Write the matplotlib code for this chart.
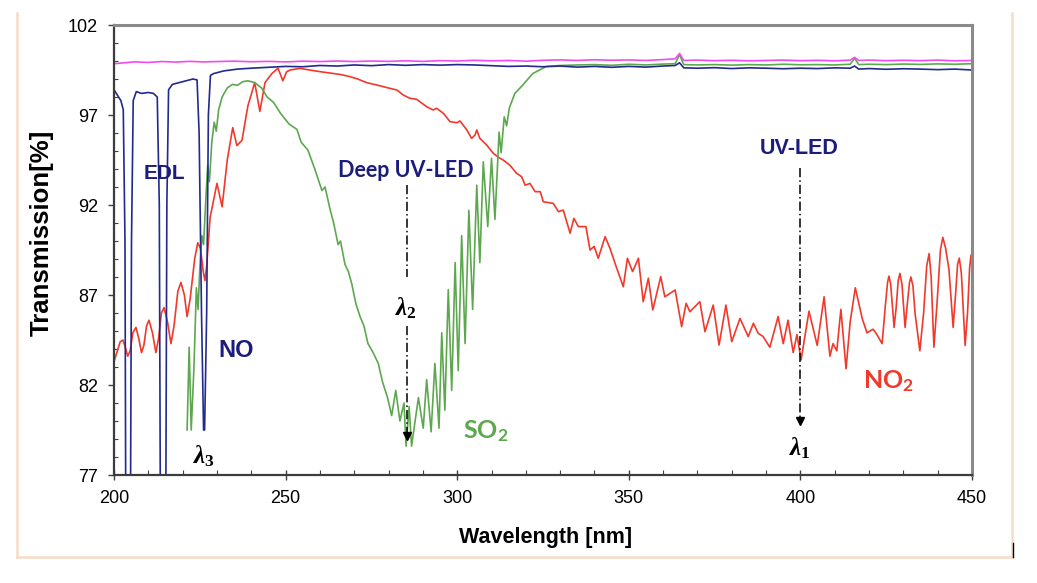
import matplotlib.pyplot as plt
from matplotlib.lines import Line2D

# ---- data (wavelength nm, transmission %) ----
mag_wl = [200, 203, 206, 210, 214, 218, 222, 226, 230, 235, 240, 245, 250, 255, 260, 265, 270, 275,
          280, 285, 290, 295, 300, 305, 310, 315, 320, 325, 330, 335, 340, 345, 350, 355, 360,
          363.5, 364.8, 366, 370, 375, 380, 385, 390, 395, 400, 405, 410, 414.5, 415.8, 417,
          420, 425, 430, 435, 440, 445, 450]
mag_T = [99.85, 99.9, 99.95, 99.92, 99.97, 99.94, 99.98, 99.95, 99.97, 99.99, 99.96, 99.98, 99.95,
         99.99, 99.97, 100.0, 99.97, 100.0, 99.98, 100.01, 99.98, 100.02, 100.0, 100.04, 100.01,
         100.03, 99.99, 100.04, 100.06, 100.03, 100.07, 100.04, 100.06, 100.03, 100.08,
         100.12, 100.42, 100.03, 100.05, 100.02, 100.04, 100.01, 100.03, 100.05, 100.02, 100.04,
         100.01, 100.05, 100.2, 100.03, 100.05, 100.02, 100.04, 100.02, 100.05, 100.01, 100.03]

no_wl = [200, 201, 202, 202.7, 203.2, 203.5, 204.7, 205.1, 205.6, 206.5,
         208, 210, 211.5, 212.6, 213.2, 213.6, 215.0, 215.4, 215.9, 217,
         219, 221, 223, 224.2, 224.8, 225.5, 226.1, 226.4, 227.0, 227.5,
         228.1, 229, 232, 236, 240, 245, 250, 255, 260, 265,
         270, 275, 280, 285, 290, 295, 300, 305, 310, 315,
         320, 325, 330, 335, 340, 345, 350, 355, 360, 363.5,
         364.8, 366, 370, 375, 380, 385, 390, 395, 400, 405,
         410, 414.5, 415.8, 417, 420, 425, 430, 435, 440, 445, 450]
no_T = [98.4, 98.1, 97.8, 97.3, 90, 70, 70, 90, 97.8, 98.3,
        98.2, 98.25, 98.2, 98.0, 92, 70, 70, 92, 98.4, 98.7,
        98.8, 98.9, 99.0, 98.95, 96, 86, 79.5, 79.5, 86, 97,
        99.2, 99.3, 99.45, 99.55, 99.6, 99.65, 99.7, 99.68, 99.75, 99.72,
        99.78, 99.74, 99.8, 99.76, 99.8, 99.77, 99.8, 99.78, 99.74, 99.7,
        99.72, 99.68, 99.72, 99.66, 99.7, 99.65, 99.7, 99.66, 99.72, 99.75,
        99.9, 99.62, 99.6, 99.63, 99.58, 99.62, 99.6, 99.57, 99.6, 99.58,
        99.62, 99.6, 99.72, 99.55, 99.58, 99.54, 99.57, 99.55, 99.52, 99.55, 99.5]

so2_wl = [221.3, 221.9, 222.5, 223.3, 224.0, 224.5, 225.0, 225.6, 226.1, 226.8,
          227.3, 227.8, 228.5, 229.2, 229.8, 230.5, 231.5, 233.0, 234.5, 236.0,
          237.5, 239.0, 241.0, 243.0, 244.6, 246.5, 248.5, 251.0, 253.3, 254.5,
          256.5, 258.5, 260.6, 261.5, 262.9, 264.0, 265.3, 266.0, 267.3, 268.3,
          269.3, 270.5, 271.7, 272.8, 274.0, 275.5, 277.0, 278.2, 279.7, 280.9,
          282.1, 283.3, 284.5, 285.1, 286.0, 286.7, 288.7, 290.1, 291.1, 292.4,
          293.5, 294.7, 295.5, 296.4, 297.4, 298.4, 299.4, 300.3, 301.3, 302.3,
          303.4, 304.5, 305.7, 306.6, 307.6, 308.9, 310.0, 311.0, 312.2, 312.8,
          313.7, 314.4, 315.2, 316.8, 318.8, 322.0, 326.0, 330, 335, 340,
          345, 350, 355, 360, 363.5, 364.8, 366, 370, 375, 380,
          385, 390, 395, 400, 405, 410, 414.5, 415.8, 417, 420,
          425, 430, 435, 440, 445, 450]
so2_T = [79.5, 84.1, 79.5, 83.0, 87.4, 86.2, 88.5, 90.3, 89.8, 92.5,
         94.2, 93.3, 95.5, 96.6, 96.1, 97.3, 98.0, 98.5, 98.7, 98.65,
         98.85, 98.9, 98.8, 98.5, 98.0, 97.7, 97.1, 96.5, 96.2, 95.5,
         95.05, 94.0, 92.8, 93.0, 91.8, 91.0, 89.8, 90.0, 88.7, 88.3,
         87.6, 86.5, 85.8, 85.3, 84.3, 83.8, 83.2, 82.2, 81.3, 80.3,
         81.7, 80.0, 81.0, 78.6, 80.8, 78.6, 81.3, 79.6, 82.3, 79.4,
         83.2, 79.6, 84.9, 80.6, 87.3, 81.7, 88.8, 82.8, 90.3, 84.3,
         91.7, 86.2, 93.1, 88.8, 94.4, 90.8, 94.6, 91.2, 96.05, 94.9,
         96.9, 96.4, 97.4, 98.2, 98.6, 99.3, 99.7, 99.75, 99.78, 99.8,
         99.76, 99.82, 99.78, 99.83, 99.85, 100.35, 99.8, 99.78, 99.8, 99.77,
         99.8, 99.78, 99.82, 99.79, 99.8, 99.78, 99.82, 100.15, 99.8, 99.82,
         99.8, 99.83, 99.81, 99.84, 99.82, 99.85]

no2_wl = [200, 201, 201.8, 202.6, 203.3, 204, 204.7, 205.5, 206.4, 207.2,
          208, 208.7, 209.5, 210.2, 211.2, 212.2, 213, 213.8, 214.6, 215.6,
          216.6, 217.5, 218.6, 219.5, 220.5, 221.3, 222.2, 223.5, 224.4, 225.2,
          226.0, 226.5, 227.0,
          228, 230, 231.5, 233, 234.6, 235.8, 237.3, 239, 241, 242.5,
          244, 246, 247.8, 249.2, 250.3, 251.3,
          254.2, 257, 260, 263.9, 266, 268.8, 271, 273.6, 276.5, 280.4,
          282.4, 284.3, 286.2, 288.2, 291.1, 293.0, 294.0, 296.0, 297.9, 299.9,
          300.8, 302.8, 304.2, 305.2, 305.7, 306.6, 308.6, 310.5, 312.5, 313.4,
          315.4, 317.3, 318.8, 319.8, 321.2, 322.7, 324.2, 325.1, 328.0, 329.5,
          330.9, 332.9, 334.0, 335.3, 337.5, 338.7, 339.9, 341.1, 343.1, 344.5,
          346.5, 348.4, 349.6, 351.1, 352.8, 354.2, 355.7, 357.0, 359.3, 360.5,
          363.5, 365.4, 366.7, 367.8, 370.7, 372.2, 374.6, 376.3, 378.3, 380.0,
          382.4, 384.8, 386.3, 387.7, 389.1, 391.1, 393.5, 395.0, 396.4, 397.9,
          399.0, 400.2, 402.5, 404.9, 406.9, 408.6, 409.5, 410.6, 411.8, 413.3,
          414.5, 416.0, 418.0, 419.4, 421.2, 422.3, 423.8,
          424.8, 425.4, 425.8, 426.3, 427.3, 427.9, 428.5, 429.0, 429.6, 430.5,
          431.2, 431.8, 432.2, 432.8, 433.4, 434.8, 435.9, 436.8, 437.5, 438.1,
          438.9, 439.8, 440.8, 441.5, 442.3, 443.3, 444.5, 445.2, 445.8, 446.3,
          446.9, 448.0, 448.7, 449.3, 449.7, 450]
no2_T = [83.3, 83.9, 84.4, 84.5, 84.1, 83.6, 83.9, 84.9, 85.2, 84.6,
         83.8, 84.2, 85.3, 85.6, 84.9, 83.8, 84.6, 86.0, 86.3, 85.5,
         84.3, 85.3, 87.2, 87.7, 87.0, 85.8, 86.8, 89.0, 89.9, 89.6,
         88.3, 87.8, 88.6,
         91.3, 93.2, 91.9, 94.5, 96.3, 95.3, 95.6, 97.5, 98.8, 97.2,
         98.8, 99.3, 99.6, 98.9, 99.4, 99.5,
         99.59, 99.5, 99.41, 99.31, 99.25, 99.13, 99.0, 98.8, 98.67, 98.48,
         98.39, 98.11, 97.93, 97.87, 97.46, 97.28, 97.37, 97.09, 96.63, 96.57,
         96.67, 96.17, 95.7, 95.89, 96.17, 95.7, 95.33, 94.87, 94.59, 94.5,
         94.2, 93.76, 93.57, 93.1, 93.2, 92.74, 92.74, 92.18, 92.09, 91.63,
         91.72, 90.43, 91.26, 90.8, 90.8, 89.5, 89.7, 89.04, 90.24, 89.6,
         88.48, 87.46, 89.04, 88.3, 89.04, 86.63, 87.93, 86.17, 88.02, 86.9,
         87.28, 85.24, 86.54, 86.07, 86.63, 84.96, 86.44, 84.22, 86.44, 84.41,
         85.7, 84.69, 85.43, 84.87, 84.7, 84.1, 85.8, 84.3, 85.6, 83.8,
         84.8, 83.4, 86.1, 84.2, 86.9, 83.6, 84.3, 83.9, 86.2, 82.9,
         85.5, 87.4, 85.7, 84.9, 85.1, 84.8, 84.3,
         86.5, 87.7, 88.05, 87.6, 85.2, 86.3, 87.8, 88.2, 87.6, 85.2,
         86.6, 87.7, 88.0, 87.5, 86.0, 83.9, 86.0, 88.6, 89.3, 88.0,
         84.1, 86.5, 89.5, 90.2, 89.6, 88.4, 85.2, 87.0, 88.7, 89.05,
         88.2, 84.2, 86.0, 88.5, 89.2, 89.3]

# arrows: (wavelength, top of line, tip of arrow)
deep_uv = (285.4, 93.1, 78.94)
uv_led = (400.0, 94.05, 79.78)

plt.rcParams['font.family'] = 'Liberation Sans'
plt.rcParams['mathtext.fontset'] = 'custom'
plt.rcParams['mathtext.it'] = 'Liberation Serif:italic:bold'
plt.rcParams['mathtext.rm'] = 'Liberation Serif:bold'
plt.rcParams['mathtext.bf'] = 'Lato:bold'

navy = '#1c1c7c'
red = '#f0392b'
green = '#5da84f'

fig = plt.figure(figsize=(10.37, 5.83), dpi=100)
ax = fig.add_axes([114 / 1037, 108 / 583, 858 / 1037, 450 / 583])

ax.plot(no2_wl, no2_T, color=red, lw=1.2)
ax.plot(so2_wl, so2_T, color=green, lw=1.2)
ax.plot(no_wl, no_T, color='#232a8e', lw=1.2)
ax.plot(mag_wl, mag_T, color='#f04cf0', lw=1.2)

ax.set_xlim(200, 450)
ax.set_ylim(77, 102)
ax.set_xticks(range(200, 451, 50))
ax.set_xticks(range(200, 451, 10), minor=True)
ax.set_yticks(range(77, 103, 5))
ax.set_yticks(range(77, 103), minor=True)
ax.tick_params(axis='y', which='major', direction='out', length=4.5, width=1, color='#404040',
               labelsize=13, pad=7)
ax.tick_params(axis='y', which='minor', direction='in', length=3, width=0.8, color='#404040')
ax.tick_params(axis='x', which='major', direction='inout', length=7, width=1, color='#404040',
               labelsize=13, pad=7)
ax.tick_params(axis='x', which='minor', direction='in', length=3.5, width=0.8, color='#404040')

for side in ['top', 'right']:
    ax.spines[side].set_color('#8a8a8a')
    ax.spines[side].set_linewidth(2.2)
for side in ['left', 'bottom']:
    ax.spines[side].set_color('#3c3c3c')
    ax.spines[side].set_linewidth(1.6)

# dash-dot arrows
dd = (0, (6, 2, 1, 2))
x, top, tip = deep_uv
ax.plot([x, x], [top, 88.0], color='k', lw=1.1, ls=dd)
ax.plot([x, x], [85.3, tip + 0.45], color='k', lw=1.1, ls=dd)
ax.plot(x, tip + 0.23, marker='v', ms=6, color='k')
x, top, tip = uv_led
ax.plot([x, x], [top, tip + 0.45], color='k', lw=1.1, ls=dd)
ax.plot(x, tip + 0.23, marker='v', ms=6, color='k')

# annotations
ax.text(214.7, 93.75, 'EDL', color=navy, fontsize=15, fontweight='bold', ha='center', va='center')
ax.text(235.5, 83.94, 'NO', color=navy, fontsize=17, fontweight='bold', ha='center', va='center')
ax.text(284.9, 93.57, 'Deep UV-LED', color=navy, fontsize=15.5, fontweight='bold', family='Lato',
        ha='center', va='baseline')
ax.text(399.6, 94.83, 'UV-LED', color=navy, fontsize=15.5, fontweight='bold', ha='center', va='baseline')
ax.text(418.2, 81.83, r'NO$_\mathbf{2}$', color=red, fontsize=18, fontweight='bold', family='Lato',
        ha='left', va='baseline')
ax.text(301.7, 79.06, r'SO$_\mathbf{2}$', color=green, fontsize=18, fontweight='bold', family='Lato',
        ha='left', va='baseline')
ax.text(223.0, 77.67, r'$\lambda_3$', fontsize=18, ha='left', va='baseline')
ax.text(281.9, 85.89, r'$\lambda_2$', fontsize=18, ha='left', va='baseline')
ax.text(396.7, 78.1, r'$\lambda_1$', fontsize=18, ha='left', va='baseline')

fig.text(546 / 1037, 1 - 537 / 583, 'Wavelength [nm]', fontsize=15.5, fontweight='bold',
         ha='center', va='center')
fig.text(42 / 1037, 1 - 233 / 583, 'Transmission[%]', fontsize=18.5, fontweight='bold',
         rotation=90, ha='center', va='center')

# slide frame
peach = '#f5dcc7'
fig.add_artist(Line2D([17 / 1037, 17 / 1037], [1 - 13 / 583, 1 - 557 / 583], color=peach, lw=1.8))
fig.add_artist(Line2D([1012 / 1037, 1012 / 1037], [1 - 13 / 583, 1 - 557 / 583], color=peach, lw=1.8))
fig.add_artist(Line2D([17 / 1037, 1012 / 1037], [1 - 557 / 583, 1 - 557 / 583], color=peach, lw=1.8))
fig.add_artist(Line2D([1013 / 1037, 1013 / 1037], [1 - 543 / 583, 1 - 557 / 583], color='k', lw=1))

fig.savefig('out.png', dpi=100)
